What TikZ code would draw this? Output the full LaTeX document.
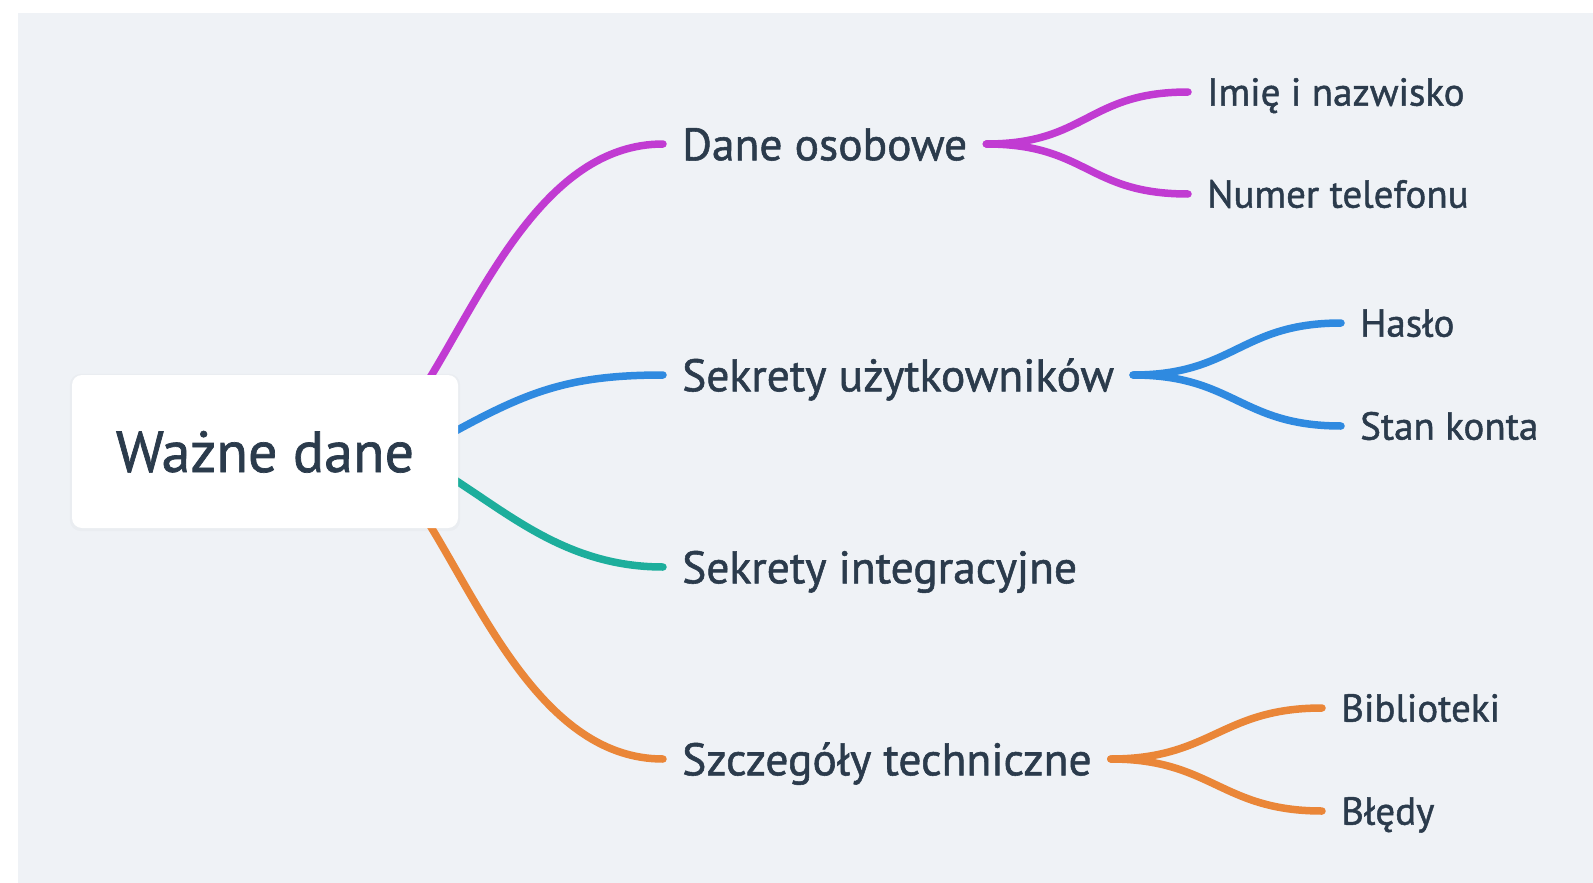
\documentclass[tikz,border=0pt]{standalone}
\usepackage{fontspec}
\setmainfont{PT Sans}[FakeBold=1.2]
\usetikzlibrary{calc}
\definecolor{bgc}{HTML}{EFF2F6}
\definecolor{ink}{HTML}{2B3B4C}
\definecolor{cpurp}{HTML}{C13BD2}
\definecolor{cblue}{HTML}{2F8AE0}
\definecolor{cteal}{HTML}{1DAE9C}
\definecolor{corange}{HTML}{EA8638}
\pgfdeclarelayer{back}
\pgfsetlayers{back,main}
\begin{document}
\begin{tikzpicture}[x=1pt,y=-1pt,
  link/.style={line width=7.5pt,line cap=round},
  rootbox/.style={fill=white,rounded corners=10pt,minimum width=386pt,minimum height=153pt,
    inner sep=0pt,text height=41pt,text depth=0pt,font=\fontsize{58}{60}\selectfont,text=ink},
  lvlone/.style={anchor=west,inner xsep=19pt,inner ysep=0pt,text height=32.5pt,text depth=0pt,
    font=\fontsize{45.5}{50}\selectfont,text=ink},
  lvltwo/.style={anchor=west,inner xsep=19pt,inner ysep=0pt,text height=27.3pt,text depth=0pt,
    font=\fontsize{39}{42}\selectfont,text=ink}]
\useasboundingbox (0,0) rectangle (1593,883);

% nodes
\node[rootbox] (root) at (265,451.5) {Ważne dane};

\node[lvlone] (dane) at (663,144) {Dane osobowe};
\node[lvlone] (sku)  at (663,375) {Sekrety użytkowników};
\node[lvlone] (ski)  at (663,567) {Sekrety integracyjne};
\node[lvlone] (szt)  at (663,759) {Szczegóły techniczne};

\node[lvltwo] (imie)  at (1188,92)  {Imię i nazwisko};
\node[lvltwo] (numer) at (1188,194) {Numer telefonu};
\node[lvltwo] (haslo) at (1341,323) {Hasło};
\node[lvltwo] (stan)  at (1341,426) {Stan konta};
\node[lvltwo] (bib)   at (1322,708) {Biblioteki};
\node[lvltwo] (bledy) at (1322,811) {Błędy};

% hidden starting points inside the root box
\coordinate (r1) at ([shift={(-37,17)}]root.north east);
\coordinate (r2) at ([shift={(-28,-6.5)}]root.east);
\coordinate (r3) at ([shift={(-26,14.5)}]root.east);
\coordinate (r4) at ([shift={(-37,-17)}]root.south east);

\begin{pgfonlayer}{back}
\fill[white] (0,0) rectangle (1593,883);
\fill[bgc] (18,13) rectangle (1593,883);
\fill[black,opacity=0.02,rounded corners=11pt] ([shift={(-2,-1)}]root.north west) rectangle ([shift={(2,3)}]root.south east);

\draw[link,cpurp]   (r1) .. controls +(59,-92) and +(-121,0) .. (dane.west);
\draw[link,cblue]   (r2) .. controls +(90,-50) and +(-103,0) .. (sku.west);
\draw[link,cteal]   (r3) .. controls +(68,39) and +(-103,0) .. (ski.west);
\draw[link,corange] (r4) .. controls +(59,92) and +(-121,0) .. (szt.west);

\draw[link,cpurp] (dane.east) .. controls +(101,0) and +(-101,0) .. (imie.west);
\draw[link,cpurp] (dane.east) .. controls +(101,0) and +(-101,0) .. (numer.west);
\draw[link,cblue] (sku.east) .. controls +(101,0) and +(-101,0) .. (haslo.west);
\draw[link,cblue] (sku.east) .. controls +(101,0) and +(-101,0) .. (stan.west);
\draw[link,corange] (szt.east) .. controls +(101,0) and +(-101,0) .. (bib.west);
\draw[link,corange] (szt.east) .. controls +(101,0) and +(-101,0) .. (bledy.west);
\end{pgfonlayer}
\end{tikzpicture}
\end{document}
